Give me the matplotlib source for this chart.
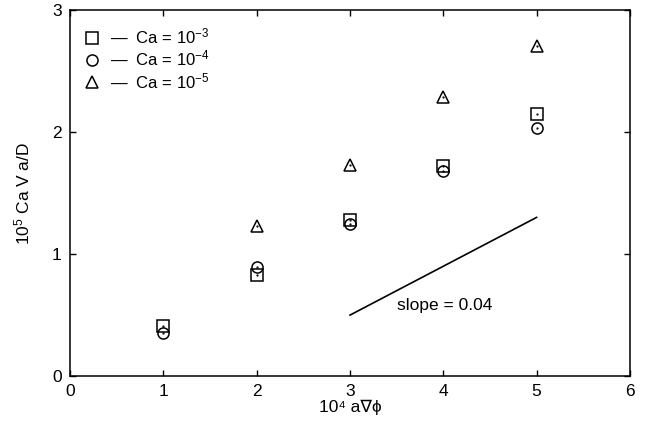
import matplotlib

matplotlib.use("Agg")
import matplotlib.pyplot as plt
from matplotlib.lines import Line2D

plt.rcParams["font.family"] = ["Liberation Sans", "DejaVu Sans"]
plt.rcParams["mathtext.fontset"] = "custom"
plt.rcParams["mathtext.rm"] = "Liberation Sans"
plt.rcParams["mathtext.it"] = "Liberation Sans"
plt.rcParams["mathtext.default"] = "regular"

# potential gradient (x 1e4) and scaled velocity (x 1e5) for three capillary numbers
grad = [1, 2, 3, 4, 5]
ca_1e3 = [0.41, 0.83, 1.28, 1.72, 2.15]
ca_1e4 = [0.35, 0.89, 1.25, 1.68, 2.03]
grad_1e5 = [2, 3, 4, 5]
ca_1e5 = [1.23, 1.73, 2.29, 2.70]

# reference slope segment
slope_x = [3, 5]
slope_y = [0.5, 1.3]

labels = [r"—  Ca = 10$^{-3}$", r"—  Ca = 10$^{-4}$", r"—  Ca = 10$^{-5}$"]

fig = plt.figure(figsize=(6.5, 4.26), dpi=100)
ax = fig.add_axes([0.108, 0.117, 0.861, 0.860])

style = dict(linestyle="none", markerfacecolor="none", markeredgecolor="black",
             markeredgewidth=1.1)
ax.plot(grad, ca_1e3, marker="s", markersize=8, **style)
ax.plot(grad, ca_1e4, marker="o", markersize=8, **style)
ax.plot(grad_1e5, ca_1e5, marker="^", markersize=8.5, **style)

# small centre dots on each symbol
for xs, ys in [(grad, ca_1e3), (grad, ca_1e4), (grad_1e5, ca_1e5)]:
    ax.plot(xs, ys, linestyle="none", marker=".", markersize=1.2, color="black")

ax.plot(slope_x, slope_y, color="black", linewidth=1.2)
ax.text(3.5, 0.58, "slope = 0.04", fontsize=12.5, va="center", ha="left")

ax.set_xlim(0, 6)
ax.set_ylim(0, 3)
ax.set_xticks(range(0, 7))
ax.set_yticks(range(0, 4))
ax.tick_params(direction="in", top=True, right=True, length=4, width=1,
               labelsize=12.5, pad=6)
for spine in ax.spines.values():
    spine.set_linewidth(1.1)

ax.set_xlabel("10\u2074 a\u2207\u03d5", fontsize=12.5, labelpad=0)
ax.set_ylabel("10$^5$ Ca V a/D", fontsize=12.5, labelpad=14)

handles = [
    Line2D([], [], marker="s", markersize=8, **style),
    Line2D([], [], marker="o", markersize=8, **style),
    Line2D([], [], marker="^", markersize=8.5, **style),
]
ax.legend(handles, labels, loc="upper left", frameon=False, fontsize=12,
          handlelength=0.6, handletextpad=0.8, labelspacing=0.15,
          borderaxespad=0.6, borderpad=0.4)

fig.savefig("out.png", dpi=100)
